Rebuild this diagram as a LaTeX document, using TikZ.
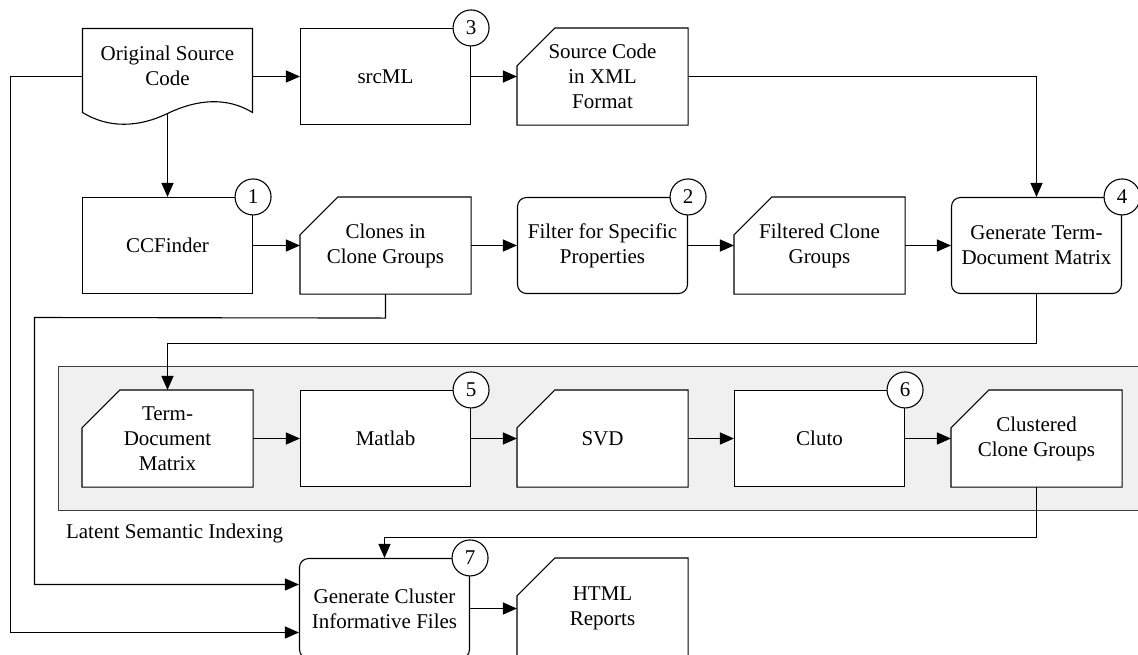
\documentclass[tikz,border=0pt]{standalone}
\usepackage{fontspec}
\setmainfont{Liberation Serif}
\usetikzlibrary{arrows.meta}
\pgfdeclarelayer{back}
\pgfdeclarelayer{mid}
\pgfsetlayers{back,mid,main}
\tikzset{ln/.style={line width=1.1pt, draw=black}}
\newcommand\cardline[1]{%
  \draw[ln, fill=white] ([yshift=-38pt]#1.north west) -- ([xshift=38pt]#1.north west) -- (#1.north east) -- (#1.south east) -- (#1.south west) -- cycle;}
\begin{document}
\begin{tikzpicture}[x=1pt,y=-1pt,line width=1.1pt,
  every node/.style={font=\fontsize{21}{25}\selectfont, align=center, inner sep=0pt},
  proc/.style={ln, rectangle, minimum width=170pt, minimum height=96pt, fill=white},
  rproc/.style={proc, rounded corners=9pt},
  slot/.style={rectangle, minimum width=170pt, minimum height=96pt},
  num/.style={ln, circle, fill=white, minimum size=36pt, inner sep=0pt},
  arr/.style={ln, -{Triangle[length=14pt,width=12pt]}}]
\useasboundingbox (-0.5,-0.5) rectangle (1137.5,653.5);

% Row 1
\node[slot] (src) at (167,76) {};
\node (srct) at (167,65) {Original Source\\Code};
\node[proc] (srcml) at (385,76) {srcML};
\node[slot] (xml) at (602,76) {Source Code\\in XML\\Format};

% Row 2
\node[proc] (ccf) at (167,245) {CCFinder};
\node[slot] (clones) at (385,245) {Clones in\\Clone Groups};
\node[rproc] (filter) at (602,245) {Filter for Specific\\Properties};
\node[slot] (filt) at (819,245) {Filtered Clone\\Groups};
\node[rproc] (gtdm) at (1036,245) {Generate Term-\\Document Matrix};

% Row 3
\node[slot] (tdm) at (167,438) {Term-\\Document\\Matrix};
\node[proc] (matlab) at (385,438) {Matlab};
\node[slot] (svd) at (602,438) {SVD};
\node[proc] (cluto) at (819,438) {Cluto};
\node[slot] (clus) at (1036,438) {Clustered\\Clone Groups};
\node[anchor=west] (lsi) at (65,533) {Latent Semantic Indexing};

% Row 4
\node[rproc, minimum height=100pt] (gc) at (384,608) {Generate Cluster\\Informative Files};
\node[slot, minimum height=100pt] (html) at (602,608) {HTML\\Reports};

% numbers
\node[num] (n3) at (srcml.north east) {3};
\node[num] (n1) at (ccf.north east) {1};
\node[num] (n2) at (filter.north east) {2};
\node[num] (n4) at (gtdm.north east) {4};
\node[num] (n5) at (matlab.north east) {5};
\node[num] (n6) at (cluto.north east) {6};
\node[num] (n7) at (gc.north east) {7};

% outlines
\begin{pgfonlayer}{mid}
  \draw[ln] (82,28) -- (252,28) -- (252,112) .. controls (226,96) and (196,99) .. (167,113)
        .. controls (138,127) and (108,128) .. (82,112) -- cycle;
  \cardline{xml}
  \cardline{clones}
  \cardline{filt}
  \cardline{tdm}
  \cardline{svd}
  \cardline{clus}
  \cardline{html}
\end{pgfonlayer}
\begin{pgfonlayer}{back}
  \draw[line width=1.1pt, fill=black!6, draw=black!75] (58,366) rectangle (1150,510);
\end{pgfonlayer}

% connectors
\draw[arr] (src.east) -- (srcml.west);
\draw[arr] (srcml.east) -- (xml.west);
\draw[arr] ([yshift=-37pt]src.center) -- (ccf.north);
\draw[arr] (xml.east) -| (gtdm.north);
\draw[arr] (ccf.east) -- (clones.west);
\draw[arr] (clones.east) -- (filter.west);
\draw[arr] (filter.east) -- (filt.west);
\draw[arr] (filt.east) -- (gtdm.west);
\draw[arr] (gtdm.south) -- ++(0,49) -| (tdm.north);
\draw[arr] (tdm.east) -- (matlab.west);
\draw[arr] (matlab.east) -- (svd.west);
\draw[arr] (svd.east) -- (cluto.west);
\draw[arr] (cluto.east) -- (clus.west);
\draw[arr] (clus.south) -- ++(0,50) -| (gc.north);
\draw[arr] (clones.south) -- ++(0,24) -- (34,317) |- ([yshift=24pt]gc.west);
\draw[arr] (src.west) -- (10,76) |- ([yshift=-24pt]gc.west);
\draw[arr] (gc.east) -- (html.west);
\end{tikzpicture}
\end{document}
